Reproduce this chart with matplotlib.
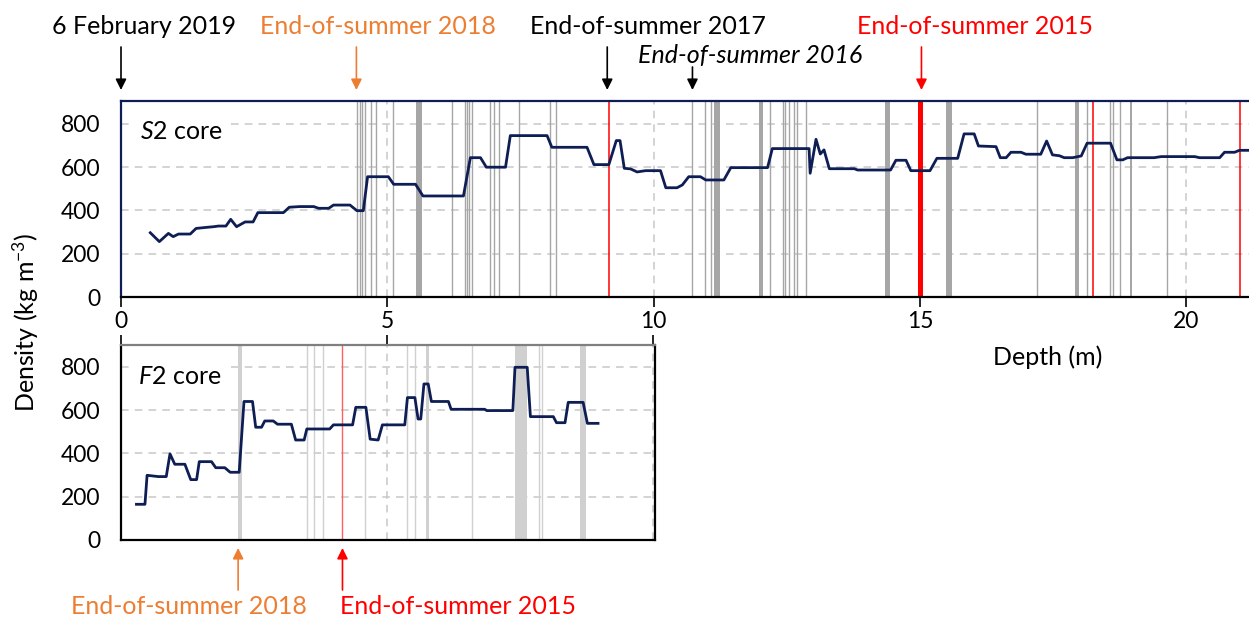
import matplotlib
matplotlib.use('Agg')
import matplotlib.pyplot as plt

# ---------------- data ----------------
s2_depth = [0.55, 0.72, 0.89, 0.98, 1.08, 1.30, 1.41, 1.61, 1.74, 1.83, 1.97, 2.06, 2.17, 2.33, 2.48,
            2.57, 3.05, 3.16, 3.36, 3.62, 3.71, 3.90, 3.99, 4.30, 4.43, 4.55, 4.63, 5.02, 5.12, 5.53,
            5.67, 6.43, 6.56, 6.75, 6.86, 7.22, 7.31, 8.00, 8.09, 8.75, 8.88, 9.16, 9.30, 9.37, 9.45,
            9.57, 9.69, 9.85, 10.13, 10.23, 10.44, 10.54, 10.66, 10.88, 10.98, 11.32, 11.45, 12.14,
            12.23, 12.92, 12.94, 13.05, 13.13, 13.20, 13.30, 13.77, 13.83, 14.45, 14.55, 14.74, 14.83,
            15.19, 15.32, 15.71, 15.83, 16.02, 16.10, 16.43, 16.51, 16.62, 16.71, 16.90, 16.99, 17.27,
            17.38, 17.49, 17.62, 17.71, 17.87, 18.03, 18.14, 18.58, 18.70, 18.81, 18.90, 19.40, 19.53,
            20.16, 20.25, 20.63, 20.72, 20.91, 21.00, 21.20]
s2_density = [297, 256, 294, 279, 291, 291, 317, 322, 325, 328, 328, 359, 325, 347, 347,
              390, 390, 415, 418, 418, 410, 410, 425, 425, 399, 399, 556, 556, 521, 521,
              467, 467, 644, 644, 600, 600, 746, 746, 692, 692, 612, 612, 723, 723, 595,
              592, 578, 584, 584, 505, 505, 518, 556, 556, 541, 541, 598, 598,
              686, 686, 572, 729, 661, 680, 593, 593, 587, 587, 632, 632, 584,
              584, 641, 641, 754, 754, 698, 695, 644, 644, 669, 669, 660, 660,
              721, 657, 653, 644, 644, 652, 711, 711, 634, 634, 644, 644, 649,
              649, 644, 644, 669, 669, 678, 678]

f2_depth = [0.29, 0.45, 0.49, 0.70, 0.85, 0.92, 1.01, 1.20, 1.31, 1.42, 1.47, 1.70, 1.78, 1.95,
            2.05, 2.22, 2.31, 2.47, 2.53, 2.64, 2.70, 2.86, 2.94, 3.20, 3.28, 3.44, 3.49, 3.92,
            3.99, 4.35, 4.41, 4.60, 4.68, 4.83, 4.91, 5.33, 5.38, 5.52, 5.58, 5.63, 5.69, 5.77,
            5.83, 6.15, 6.20, 6.83, 6.87, 7.36, 7.40, 7.63, 7.69, 8.12, 8.18, 8.34, 8.40, 8.68,
            8.76, 8.96]
f2_density = [165, 165, 299, 293, 293, 398, 350, 350, 279, 279, 362, 362, 334, 334,
              313, 313, 640, 640, 521, 521, 550, 550, 535, 535, 462, 462, 513, 513,
              532, 532, 613, 613, 466, 462, 532, 532, 658, 658, 559, 559, 721, 721,
              640, 640, 604, 604, 598, 598, 798, 798, 570, 570, 542, 542, 636, 636,
              539, 539]

# layer markers (S2)
s2_thin_gray = [4.44, 4.48, 4.52, 4.58, 4.69, 4.78, 5.10, 6.21, 6.45, 6.49, 6.54, 6.59, 6.93, 7.01,
                7.09, 7.48, 8.06, 8.17, 10.73, 10.97, 11.08, 12.19, 12.43, 12.47, 12.55, 12.63,
                12.70, 12.86, 17.20, 18.14, 18.57, 18.63, 18.75, 19.64]
s2_bands = [(5.54, 5.65), (11.14, 11.24), (11.98, 12.05), (14.35, 14.43), (15.49, 15.61),
            (17.92, 17.98), (18.95, 18.99)]
s2_red_lines = [9.16, 18.26, 21.01]
s2_red_band = [(14.96, 15.05)]

# layer markers (F2)
f2_thin_gray = [3.49, 3.62, 3.80, 4.58, 5.38, 5.52, 6.59, 7.86, 7.90]
f2_bands = [(2.19, 2.27), (5.72, 5.78), (7.40, 7.62), (8.62, 8.73)]
f2_red_lines = [4.16]

s2_ticks = [0, 5, 10, 15, 20]
f2_ticks = [0, 5, 10]
y_ticks = [0, 200, 400, 600, 800]

top_events = [("6 February 2019", 0.0, 'black', 'normal', 144, 27, 47),
              ("End-of-summer 2018", 4.42, '#ED7D31', 'normal', 378, 27, 47),
              ("End-of-summer 2017", 9.13, 'black', 'normal', 648, 27, 47),
              ("End-of-summer 2016", 10.73, 'black', 'italic', 750, 55, 67),
              ("End-of-summer 2015", 15.03, '#FF0000', 'normal', 975, 27, 47)]
bottom_events = [("End-of-summer 2018", 2.20, '#ED7D31', 189),
                 ("End-of-summer 2015", 4.16, '#FF0000', 458)]

# ---------------- style ----------------
plt.rcParams['font.family'] = ['Lato', 'DejaVu Sans']
plt.rcParams['mathtext.fontset'] = 'custom'
plt.rcParams['mathtext.rm'] = 'Lato'
plt.rcParams['mathtext.it'] = 'Lato:italic'
TFS = 16.5   # tick labels
LFS = 18     # labels / annotations
W, H = 1249, 617
NAVY = '#0E1E54'

def fx(px):
    return px / W

def fy(py):
    return 1 - py / H

fig = plt.figure(figsize=(W / 100, H / 100), dpi=100)

ax1 = fig.add_axes([fx(121), fy(297), fx(1249) - fx(121), fy(101) - fy(297)])
ax2 = fig.add_axes([fx(121), fy(540), fx(655) - fx(121), fy(345) - fy(540)])

def grid(ax, xt):
    for v in y_ticks[1:]:
        ax.axhline(v, color='#C8C8C8', lw=1.1, ls=(0, (5, 4)), zorder=0)
    for v in xt[1:]:
        ax.axvline(v, color='#C8C8C8', lw=1.1, ls=(0, (5, 4)), zorder=0)

# ---- top panel ----
ax1.set_xlim(0, 21.18)
ax1.set_ylim(0, 906)
grid(ax1, s2_ticks)
for x in s2_thin_gray:
    ax1.axvline(x, color='#A6A6A6', lw=1.0, zorder=1)
for a, b in s2_bands:
    ax1.axvspan(a, b, color='#A6A6A6', lw=0, zorder=1)
for x in s2_red_lines:
    ax1.axvline(x, color='#FF0000', lw=1.1, zorder=2)
for a, b in s2_red_band:
    ax1.axvspan(a, b, color='#FF0000', lw=0, zorder=2)
ax1.plot(s2_depth, s2_density, color=NAVY, lw=2.0, zorder=3, solid_joinstyle='round')
ax1.set_xticks(s2_ticks)
ax1.set_yticks(y_ticks)
ax1.tick_params(axis='x', direction='out', length=7, width=1.2, color='black', pad=3, labelsize=TFS)
ax1.tick_params(axis='y', length=0, pad=15, labelsize=TFS)
for s in ax1.spines.values():
    s.set_color(NAVY)
    s.set_linewidth(1.6)
ax1.spines['bottom'].set_color('black')
ax1.spines['right'].set_visible(False)
ax1.text(0.36, 763, r"$\mathit{S2}$ core", fontsize=LFS, va='center', ha='left', zorder=5,
         bbox=dict(facecolor='white', edgecolor='none', pad=6))

# ---- bottom panel ----
ax2.set_xlim(0, 10.03)
ax2.set_ylim(0, 901)
grid(ax2, f2_ticks)
for x in f2_thin_gray:
    ax2.axvline(x, color='#D0D0D0', lw=1.0, zorder=1)
for a, b in f2_bands:
    ax2.axvspan(a, b, color='#D0D0D0', lw=0, zorder=1)
for x in f2_red_lines:
    ax2.axvline(x, color='#FF6060', lw=1.0, zorder=2)
ax2.plot(f2_depth, f2_density, color=NAVY, lw=2.0, zorder=3, solid_joinstyle='round')
ax2.set_xticks(f2_ticks)
ax2.set_yticks(y_ticks)
ax2.xaxis.set_ticks_position('top')
ax2.tick_params(axis='x', direction='out', length=7, width=1.2, color='black', labeltop=False,
                labelbottom=False)
ax2.tick_params(axis='y', length=0, pad=15, labelsize=TFS)
for s in ax2.spines.values():
    s.set_color('black')
    s.set_linewidth(1.6)
ax2.spines['top'].set_color('#7F7F7F')
ax2.text(0.32, 754, r"$\mathit{F2}$ core", fontsize=LFS, va='center', ha='left', zorder=5,
         bbox=dict(facecolor='white', edgecolor='none', pad=6))

# ---- annotations ----
tr1 = ax1.get_xaxis_transform()
ax1_h = 297 - 101
for label, xd, col, sty, tx, ty, tail in top_events:
    fig.text(fx(tx), fy(ty), label, color=col, style=sty, fontsize=LFS, ha='center', va='center')
    ax1.annotate('', xy=(xd, (297 - 90) / ax1_h), xytext=(xd, (297 - tail) / ax1_h),
                 xycoords=tr1, textcoords=tr1, annotation_clip=False,
                 arrowprops=dict(arrowstyle='-|>', color=col, lw=1.2, mutation_scale=16,
                                 shrinkA=0, shrinkB=0))

tr2 = ax2.get_xaxis_transform()
ax2_h = 540 - 345
for label, xd, col, tx in bottom_events:
    fig.text(fx(tx), fy(606), label, color=col, fontsize=LFS, ha='center', va='center')
    ax2.annotate('', xy=(xd, (540 - 548) / ax2_h), xytext=(xd, (540 - 590) / ax2_h),
                 xycoords=tr2, textcoords=tr2, annotation_clip=False,
                 arrowprops=dict(arrowstyle='-|>', color=col, lw=1.2, mutation_scale=16,
                                 shrinkA=0, shrinkB=0))

fig.text(fx(26), fy(322), "Density (kg m$^{-3}$)", rotation=90, fontsize=LFS,
         ha='center', va='center')
fig.text(fx(1048), fy(357), "Depth (m)", fontsize=LFS, ha='center', va='center')

fig.savefig('out.png', dpi=100)
